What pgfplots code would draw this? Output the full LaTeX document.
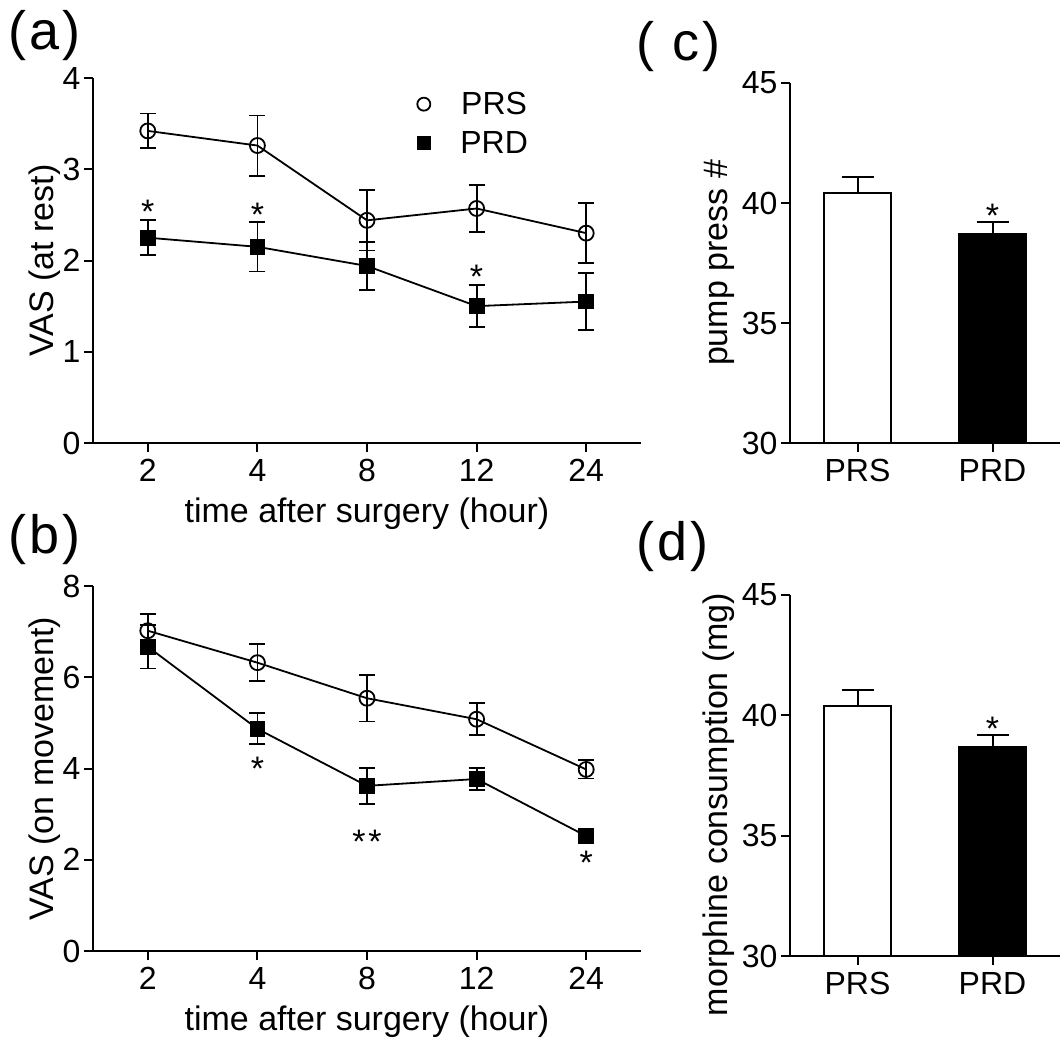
\documentclass[border=0pt]{standalone}
\usepackage{pgfplots}
\pgfplotsset{compat=1.18}
\usepackage{fontspec}
\setmainfont{Liberation Sans}

\pgfplotsset{
  panel/.style={
    scale only axis,
    axis x line*=bottom,
    axis y line*=left,
    axis line style={line width=2pt},
    every tick/.style={line width=2pt, black},
    tick align=outside,
    major tick length=9pt,
    /pgf/number format/assume math mode=true,
    tick label style={font=\fontsize{32}{36}\selectfont},
    xticklabel style={yshift=-4pt},
    label style={font=\fontsize{34}{38}\selectfont},
  },
  linepanel/.style={
    panel,
    xmin=-0.5, xmax=4.5,
    xtick={0,1,2,3,4},
    xticklabels={2,4,8,12,24},
    xlabel={time after surgery (hour)},
    xlabel style={yshift=-9pt},
    ylabel style={yshift=-5pt},
    clip=false,
  },
  barpanel/.style={
    panel,
    xmin=-0.5, xmax=1.5,
    ymin=30, ymax=45,
    xtick={0,1},
    xticklabels={PRS,PRD},
    ytick={30,35,40,45},
    clip mode=individual,
    axis on top,
  },
  prs/.style={black, line width=1.8pt, mark=o,
    mark size=7.5pt, mark options={line width=1.8pt},
    error bars/.cd, y dir=both, y explicit,
    error bar style={line width=1.8pt},
    error mark options={rotate=90, mark size=8pt, line width=1.8pt}},
  prd/.style={black, line width=1.8pt, mark=square*,
    mark size=7pt, mark options={fill=black},
    error bars/.cd, y dir=both, y explicit,
    error bar style={line width=1.8pt},
    error mark options={rotate=90, mark size=8pt, line width=1.8pt}},
  barerr/.style={error bars/.cd, y dir=plus, y explicit,
    error bar style={line width=2pt},
    error mark options={rotate=90, mark size=16pt, line width=2pt}},
}
\tikzset{
  star/.style={font=\fontsize{34}{38}\selectfont, inner sep=0pt, anchor=north, yshift=7pt},
  plabel/.style={font=\fontsize{54}{58}\selectfont\addfontfeatures{LetterSpace=6}, anchor=west, inner sep=0pt},
}

\begin{document}
\begin{tikzpicture}
\useasboundingbox (0,0) rectangle (1060pt,-1038pt);

% (a)
\begin{axis}[linepanel,
  at={(93pt,-443pt)}, anchor=south west,
  width=548pt, height=365pt,
  ymin=0, ymax=4, ytick={0,1,2,3,4},
  ylabel={VAS (at rest)},
  legend style={at={(axis cs:2.43,3.89)}, anchor=north west, draw=none,
    fill=none, font=\fontsize{32}{36}\selectfont, row sep=11pt,
    /tikz/every odd column/.append style={column sep=28pt}},
]
\addlegendimage{only marks, mark=o, mark size=6.5pt, line width=1.8pt}
\addlegendentry{PRS}
\addlegendimage{only marks, mark=square*, mark size=6.5pt}
\addlegendentry{PRD}
\addplot[prs] coordinates {
  (0,3.42) +- (0,0.19)
  (1,3.26) +- (0,0.33)
  (2,2.44) +- (0,0.33)
  (3,2.57) +- (0,0.26)
  (4,2.30) +- (0,0.33)
};
\addplot[prd] coordinates {
  (0,2.25) +- (0,0.19)
  (1,2.15) +- (0,0.27)
  (2,1.94) +- (0,0.26)
  (3,1.50) +- (0,0.23)
  (4,1.55) +- (0,0.31)
};
\node[star] at (axis cs:0,2.59) {*};
\node[star] at (axis cs:1,2.55) {*};
\node[star] at (axis cs:3,1.87) {*};
\end{axis}

% (b)
\begin{axis}[linepanel,
  at={(93pt,-951pt)}, anchor=south west,
  width=548pt, height=365pt,
  ymin=0, ymax=8, ytick={0,2,4,6,8},
  ylabel={VAS (on movement)},
]
\addplot[prs] coordinates {
  (0,7.02) +- (0,0.36)
  (1,6.32) +- (0,0.41)
  (2,5.54) +- (0,0.51)
  (3,5.08) +- (0,0.35)
  (4,3.98) +- (0,0.20)
};
\addplot[prd] coordinates {
  (0,6.67) +- (0,0.48)
  (1,4.87) +- (0,0.34)
  (2,3.62) +- (0,0.39)
  (3,3.77) +- (0,0.24)
  (4,2.52) +- (0,0.12)
};
\node[star] at (axis cs:1,4.10) {*};
\node[star] at (axis cs:2,2.50) {*\kern3pt*};
\node[star] at (axis cs:4,2.05) {*};
\end{axis}

% (c)
\begin{axis}[barpanel,
  at={(790pt,-443pt)}, anchor=south west,
  width=270pt, height=360pt,
  ylabel={pump press \#},
]
\addplot[ybar, bar width=0.5, fill=white, draw=black, line width=2pt, barerr]
  coordinates {(0,40.42) +- (0,0.65)};
\addplot[ybar, bar width=0.5, fill=black, draw=black, line width=2pt, barerr]
  coordinates {(1,38.72) +- (0,0.49)};
\node[star] at (axis cs:1,39.65) {*};
\end{axis}

% (d)
\begin{axis}[barpanel,
  at={(790pt,-956pt)}, anchor=south west,
  width=270pt, height=361pt,
  ylabel={morphine consumption (mg)},
  ylabel style={at={(ticklabel cs:0.42)}},
]
\addplot[ybar, bar width=0.5, fill=white, draw=black, line width=2pt, barerr]
  coordinates {(0,40.39) +- (0,0.68)};
\addplot[ybar, bar width=0.5, fill=black, draw=black, line width=2pt, barerr]
  coordinates {(1,38.70) +- (0,0.50)};
\node[star] at (axis cs:1,39.64) {*};
\end{axis}

\node[plabel] at (8pt,-36pt) {(a)};
\node[plabel] at (8pt,-540pt) {(b)};
\node[plabel] at (636pt,-47pt) {( c)};
\node[plabel] at (636pt,-547pt) {(d)};
\end{tikzpicture}
\end{document}
